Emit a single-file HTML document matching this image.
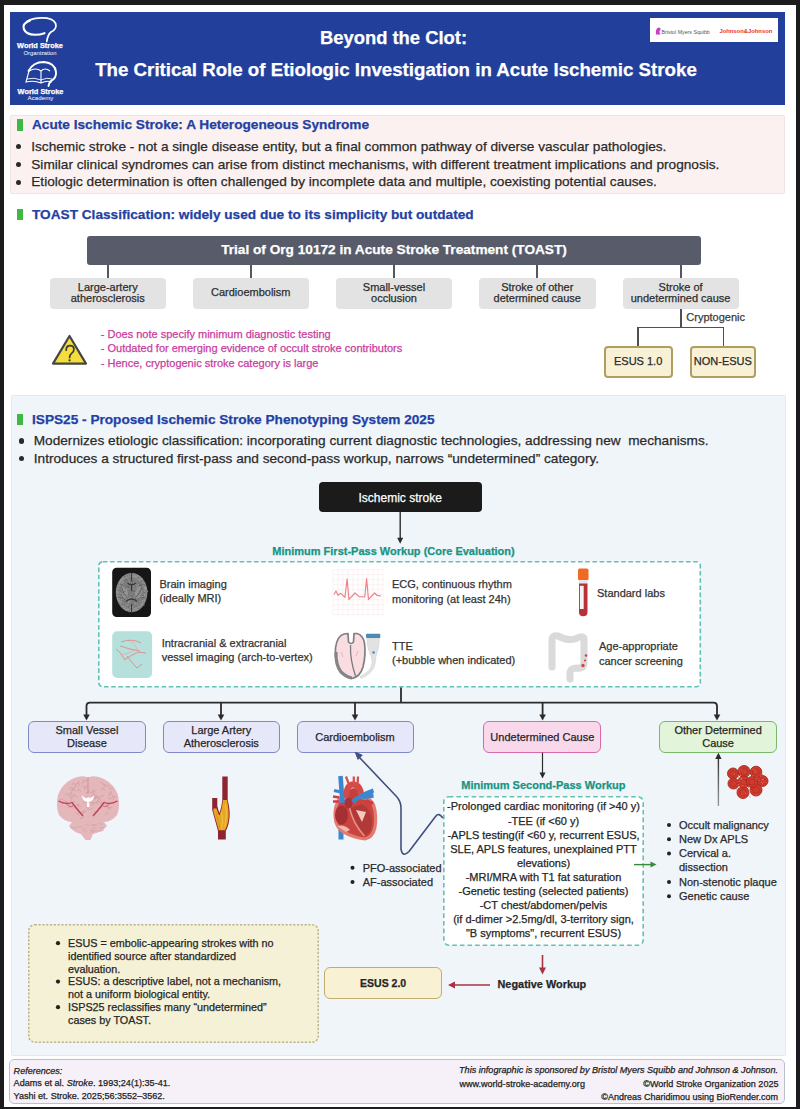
<!DOCTYPE html>
<html><head><meta charset="utf-8"><title>Beyond the Clot</title>
<style>
html,body{margin:0;padding:0;}
body{width:800px;height:1109px;position:relative;overflow:hidden;background:#1c1c1e;font-family:"Liberation Sans",sans-serif;}
.a{position:absolute;}
.t{position:absolute;white-space:nowrap;font-family:"Liberation Sans",sans-serif;-webkit-text-stroke:0.25px currentColor;}
svg{position:absolute;left:0;top:0;overflow:visible;}
</style></head><body>

<div class="a" style="left:4.00px;top:5.00px;width:792.00px;height:1102.30px;background:#ffffff;"></div>
<div class="a" style="left:10.00px;top:12.00px;width:775.00px;height:93.00px;background:#22409b;"></div>
<div class="t" style="left:-6.50px;width:800px;text-align:center;top:27.75px;font-size:18.4px;line-height:20.55px;color:#fff;font-weight:bold;font-style:normal;">Beyond the Clot:</div>
<div class="t" style="left:-4.00px;width:800px;text-align:center;top:59.78px;font-size:18.7px;line-height:20.89px;color:#fff;font-weight:bold;font-style:normal;">The Critical Role of Etiologic Investigation in Acute Ischemic Stroke</div>
<div class="a" style="left:650.00px;top:18.40px;width:128.40px;height:24.10px;background:#fff;"></div>
<div class="a" style="left:10.00px;top:115.00px;width:774.60px;height:79.30px;box-sizing:border-box;border:1px solid #efe4e2;background:#fbf1f0;border-radius:2px;"></div>
<div class="a" style="left:17.00px;top:119.00px;width:6.00px;height:12.00px;background:#3fb944;"></div>
<div class="t" style="left:32.00px;top:117.15px;font-size:13.65px;line-height:15.25px;color:#2241a3;font-weight:bold;font-style:normal;">Acute Ischemic Stroke: A Heterogeneous Syndrome</div>
<div class="a" style="left:16.37px;top:144.37px;width:5.05px;height:5.05px;border-radius:50%;background:#2a2a2a;"></div>
<div class="t" style="left:31.25px;top:139.05px;font-size:13.65px;line-height:15.25px;color:#2a2a2a;font-weight:normal;font-style:normal;">Ischemic stroke - not a single disease entity, but a final common pathway of diverse vascular pathologies.</div>
<div class="a" style="left:16.37px;top:161.97px;width:5.05px;height:5.05px;border-radius:50%;background:#2a2a2a;"></div>
<div class="t" style="left:31.25px;top:156.65px;font-size:13.65px;line-height:15.25px;color:#2a2a2a;font-weight:normal;font-style:normal;">Similar clinical syndromes can arise from distinct mechanisms, with different treatment implications and prognosis.</div>
<div class="a" style="left:16.37px;top:179.57px;width:5.05px;height:5.05px;border-radius:50%;background:#2a2a2a;"></div>
<div class="t" style="left:31.25px;top:174.25px;font-size:13.65px;line-height:15.25px;color:#2a2a2a;font-weight:normal;font-style:normal;">Etiologic determination is often challenged by incomplete data and multiple, coexisting potential causes.</div>
<div class="a" style="left:17.00px;top:208.75px;width:6.00px;height:11.25px;background:#3fb944;"></div>
<div class="t" style="left:32.00px;top:206.90px;font-size:13.65px;line-height:15.25px;color:#2241a3;font-weight:bold;font-style:normal;">TOAST Classification: widely used due to its simplicity but outdated</div>
<div class="a" style="left:87.00px;top:236.20px;width:613.50px;height:28.80px;box-sizing:border-box;border:0px solid #585b6a;background:#585b6a;border-radius:3px;"></div>
<div class="t" style="left:-6.00px;width:800px;text-align:center;top:242.35px;font-size:13.65px;line-height:15.25px;color:#fff;font-weight:bold;font-style:normal;">Trial of Org 10172 in Acute Stroke Treatment (TOAST)</div>
<div class="a" style="left:107.00px;top:265.00px;width:2.00px;height:12.50px;background:#555761;"></div>
<div class="a" style="left:250.00px;top:265.00px;width:2.00px;height:12.50px;background:#555761;"></div>
<div class="a" style="left:393.00px;top:265.00px;width:2.00px;height:12.50px;background:#555761;"></div>
<div class="a" style="left:536.40px;top:265.00px;width:2.00px;height:12.50px;background:#555761;"></div>
<div class="a" style="left:679.50px;top:265.00px;width:2.00px;height:12.50px;background:#555761;"></div>
<div class="a" style="left:50.00px;top:277.50px;width:115.50px;height:31.50px;box-sizing:border-box;border:0px solid #e3e3e3;background:#e3e3e3;border-radius:4px;"></div>
<div class="a" style="left:193.00px;top:277.50px;width:115.50px;height:31.50px;box-sizing:border-box;border:0px solid #e3e3e3;background:#e3e3e3;border-radius:4px;"></div>
<div class="a" style="left:336.00px;top:277.50px;width:116.00px;height:31.50px;box-sizing:border-box;border:0px solid #e3e3e3;background:#e3e3e3;border-radius:4px;"></div>
<div class="a" style="left:479.00px;top:277.50px;width:116.50px;height:31.50px;box-sizing:border-box;border:0px solid #e3e3e3;background:#e3e3e3;border-radius:4px;"></div>
<div class="a" style="left:622.50px;top:277.50px;width:116.20px;height:31.50px;box-sizing:border-box;border:0px solid #e3e3e3;background:#e3e3e3;border-radius:4px;"></div>
<div class="t" style="left:-292.25px;width:800px;text-align:center;top:280.85px;font-size:11px;line-height:12.29px;color:#2e2e2e;font-weight:normal;font-style:normal;">Large-artery</div>
<div class="t" style="left:-292.25px;width:800px;text-align:center;top:292.05px;font-size:11px;line-height:12.29px;color:#2e2e2e;font-weight:normal;font-style:normal;">atherosclerosis</div>
<div class="t" style="left:-149.25px;width:800px;text-align:center;top:285.85px;font-size:11px;line-height:12.29px;color:#2e2e2e;font-weight:normal;font-style:normal;">Cardioembolism</div>
<div class="t" style="left:-6.00px;width:800px;text-align:center;top:280.85px;font-size:11px;line-height:12.29px;color:#2e2e2e;font-weight:normal;font-style:normal;">Small-vessel</div>
<div class="t" style="left:-6.00px;width:800px;text-align:center;top:292.05px;font-size:11px;line-height:12.29px;color:#2e2e2e;font-weight:normal;font-style:normal;">occlusion</div>
<div class="t" style="left:137.25px;width:800px;text-align:center;top:280.85px;font-size:11px;line-height:12.29px;color:#2e2e2e;font-weight:normal;font-style:normal;">Stroke of other</div>
<div class="t" style="left:137.25px;width:800px;text-align:center;top:292.05px;font-size:11px;line-height:12.29px;color:#2e2e2e;font-weight:normal;font-style:normal;">determined cause</div>
<div class="t" style="left:280.60px;width:800px;text-align:center;top:280.85px;font-size:11px;line-height:12.29px;color:#2e2e2e;font-weight:normal;font-style:normal;">Stroke of</div>
<div class="t" style="left:280.60px;width:800px;text-align:center;top:292.05px;font-size:11px;line-height:12.29px;color:#2e2e2e;font-weight:normal;font-style:normal;">undetermined cause</div>
<div class="a" style="left:680.00px;top:309.00px;width:1.50px;height:19.00px;background:#505050;"></div>
<div class="a" style="left:637.00px;top:326.80px;width:87.00px;height:1.50px;background:#505050;"></div>
<div class="a" style="left:637.00px;top:326.80px;width:1.50px;height:19.70px;background:#505050;"></div>
<div class="a" style="left:722.50px;top:326.80px;width:1.50px;height:19.70px;background:#505050;"></div>
<div class="t" style="left:686.30px;top:310.75px;font-size:11px;line-height:12.29px;color:#3a3a3a;font-weight:normal;font-style:normal;">Cryptogenic</div>
<div class="a" style="left:603.50px;top:346.00px;width:69.30px;height:31.60px;box-sizing:border-box;border:2px solid #b09e60;background:#f8f1d6;border-radius:4px;"></div>
<div class="a" style="left:689.70px;top:346.00px;width:66.30px;height:31.60px;box-sizing:border-box;border:2px solid #b09e60;background:#f8f1d6;border-radius:4px;"></div>
<div class="t" style="left:238.15px;width:800px;text-align:center;top:354.85px;font-size:11px;line-height:12.29px;color:#2a2a2a;font-weight:normal;font-style:normal;">ESUS 1.0</div>
<div class="t" style="left:322.85px;width:800px;text-align:center;top:354.85px;font-size:11px;line-height:12.29px;color:#2a2a2a;font-weight:normal;font-style:normal;">NON-ESUS</div>
<svg width="800" height="1109"><path d="M69.5 336 L86 363.6 L53 363.6 Z" fill="#f5de3c" stroke="#454545" stroke-width="2.2" stroke-linejoin="round"/><path d="M66.2 350.2 Q66.2 345.6 70.1 345.6 Q73.9 345.6 73.9 349.4 Q73.9 351.9 71.6 353.4 Q69.6 354.8 69.6 357.6" fill="none" stroke="#3a3a3a" stroke-width="1.7" stroke-linecap="round"/><circle cx="69.6" cy="360.3" r="1.15" fill="#3a3a3a"/></svg>
<div class="t" style="left:100.80px;top:327.65px;font-size:11px;line-height:12.29px;color:#c83d9e;font-weight:normal;font-style:normal;">- Does note specify minimum diagnostic testing</div>
<div class="t" style="left:100.80px;top:342.05px;font-size:11px;line-height:12.29px;color:#c83d9e;font-weight:normal;font-style:normal;">- Outdated for emerging evidence of occult stroke contributors</div>
<div class="t" style="left:100.80px;top:356.55px;font-size:11px;line-height:12.29px;color:#c83d9e;font-weight:normal;font-style:normal;">- Hence, cryptogenic stroke category is large</div>
<div class="a" style="left:10.50px;top:395.20px;width:775.70px;height:660.40px;box-sizing:border-box;border:1px solid #e4e9ee;background:#f0f5fa;border-radius:1.5px;"></div>
<div class="a" style="left:17.00px;top:413.75px;width:6.00px;height:11.25px;background:#3fb944;"></div>
<div class="t" style="left:32.00px;top:411.65px;font-size:13.65px;line-height:15.25px;color:#2241a3;font-weight:bold;font-style:normal;">ISPS25 - Proposed Ischemic Stroke Phenotyping System 2025</div>
<div class="a" style="left:18.72px;top:438.47px;width:5.05px;height:5.05px;border-radius:50%;background:#2a2a2a;"></div>
<div class="t" style="left:33.75px;top:433.15px;font-size:13.65px;line-height:15.25px;color:#2a2a2a;font-weight:normal;font-style:normal;">Modernizes etiologic classification: incorporating current diagnostic technologies, addressing new&nbsp; mechanisms.</div>
<div class="a" style="left:18.72px;top:455.97px;width:5.05px;height:5.05px;border-radius:50%;background:#2a2a2a;"></div>
<div class="t" style="left:33.75px;top:450.65px;font-size:13.65px;line-height:15.25px;color:#2a2a2a;font-weight:normal;font-style:normal;">Introduces a structured first-pass and second-pass workup, narrows “undetermined” category.</div>
<div class="a" style="left:318.60px;top:482.00px;width:163.10px;height:30.00px;box-sizing:border-box;border:0px solid #1b1b1b;background:#1b1b1b;border-radius:4px;"></div>
<div class="t" style="left:0.20px;width:800px;text-align:center;top:492.34px;font-size:12px;line-height:13.40px;color:#fff;font-weight:normal;font-style:normal;">Ischemic stroke</div>
<div class="t" style="left:-6.50px;width:800px;text-align:center;top:545.04px;font-size:11px;line-height:12.29px;color:#179484;font-weight:bold;font-style:normal;">Minimum First-Pass Workup (Core Evaluation)</div>
<svg class="a" style="left:98.20px;top:561.10px;" width="603.10" height="126.50"><rect x="0.80" y="0.80" width="601.50" height="124.90" rx="4" fill="#ffffff" stroke="#62c2b4" stroke-width="1.6" stroke-dasharray="4.6 2.6"/></svg>
<div class="t" style="left:159.50px;top:578.04px;font-size:11px;line-height:12.29px;color:#333;font-weight:normal;font-style:normal;">Brain imaging</div>
<div class="t" style="left:159.50px;top:592.25px;font-size:11px;line-height:12.29px;color:#333;font-weight:normal;font-style:normal;">(ideally MRI)</div>
<div class="t" style="left:161.70px;top:636.75px;font-size:11px;line-height:12.29px;color:#333;font-weight:normal;font-style:normal;">Intracranial &amp; extracranial</div>
<div class="t" style="left:161.70px;top:651.04px;font-size:11px;line-height:12.29px;color:#333;font-weight:normal;font-style:normal;">vessel imaging (arch-to-vertex)</div>
<div class="t" style="left:392.00px;top:578.04px;font-size:11px;line-height:12.29px;color:#333;font-weight:normal;font-style:normal;">ECG, continuous rhythm</div>
<div class="t" style="left:392.00px;top:592.84px;font-size:11px;line-height:12.29px;color:#333;font-weight:normal;font-style:normal;">monitoring (at least 24h)</div>
<div class="t" style="left:597.00px;top:586.64px;font-size:11px;line-height:12.29px;color:#333;font-weight:normal;font-style:normal;">Standard labs</div>
<div class="t" style="left:392.00px;top:640.34px;font-size:11px;line-height:12.29px;color:#333;font-weight:normal;font-style:normal;">TTE</div>
<div class="t" style="left:392.00px;top:654.04px;font-size:11px;line-height:12.29px;color:#333;font-weight:normal;font-style:normal;">(+bubble when indicated)</div>
<div class="t" style="left:599.00px;top:639.84px;font-size:11px;line-height:12.29px;color:#333;font-weight:normal;font-style:normal;">Age-appropriate</div>
<div class="t" style="left:599.00px;top:654.64px;font-size:11px;line-height:12.29px;color:#333;font-weight:normal;font-style:normal;">cancer screening</div>
<div class="a" style="left:28.25px;top:720.60px;width:117.25px;height:32.10px;box-sizing:border-box;border:1.5px solid #7f88c9;background:#e6e8f9;border-radius:6px;"></div>
<div class="t" style="left:-313.12px;width:800px;text-align:center;top:724.04px;font-size:11px;line-height:12.29px;color:#262626;font-weight:normal;font-style:normal;">Small Vessel</div>
<div class="t" style="left:-313.12px;width:800px;text-align:center;top:737.44px;font-size:11px;line-height:12.29px;color:#262626;font-weight:normal;font-style:normal;">Disease</div>
<div class="a" style="left:162.50px;top:720.60px;width:117.50px;height:32.10px;box-sizing:border-box;border:1.5px solid #7f88c9;background:#e6e8f9;border-radius:6px;"></div>
<div class="t" style="left:-178.75px;width:800px;text-align:center;top:724.04px;font-size:11px;line-height:12.29px;color:#262626;font-weight:normal;font-style:normal;">Large Artery</div>
<div class="t" style="left:-178.75px;width:800px;text-align:center;top:737.44px;font-size:11px;line-height:12.29px;color:#262626;font-weight:normal;font-style:normal;">Atherosclerosis</div>
<div class="a" style="left:296.50px;top:720.60px;width:117.00px;height:32.10px;box-sizing:border-box;border:1.5px solid #7f88c9;background:#e6e8f9;border-radius:6px;"></div>
<div class="t" style="left:-45.00px;width:800px;text-align:center;top:730.75px;font-size:11px;line-height:12.29px;color:#262626;font-weight:normal;font-style:normal;">Cardioembolism</div>
<div class="a" style="left:483.20px;top:720.60px;width:118.30px;height:32.10px;box-sizing:border-box;border:1.5px solid #d76aa9;background:#fad8ec;border-radius:6px;"></div>
<div class="t" style="left:142.35px;width:800px;text-align:center;top:730.75px;font-size:11px;line-height:12.29px;color:#262626;font-weight:normal;font-style:normal;">Undetermined Cause</div>
<div class="a" style="left:659.00px;top:720.60px;width:118.20px;height:32.10px;box-sizing:border-box;border:1.5px solid #78b96c;background:#e2f4d9;border-radius:6px;"></div>
<div class="t" style="left:318.10px;width:800px;text-align:center;top:724.04px;font-size:11px;line-height:12.29px;color:#262626;font-weight:normal;font-style:normal;">Other Determined</div>
<div class="t" style="left:318.10px;width:800px;text-align:center;top:737.44px;font-size:11px;line-height:12.29px;color:#262626;font-weight:normal;font-style:normal;">Cause</div>
<div class="t" style="left:143.40px;width:800px;text-align:center;top:779.25px;font-size:11px;line-height:12.29px;color:#179484;font-weight:bold;font-style:normal;">Minimum Second-Pass Workup</div>
<svg class="a" style="left:442.80px;top:796.20px;" width="201.00" height="150.00"><rect x="0.80" y="0.80" width="199.40" height="148.40" rx="5" fill="#ffffff" stroke="#62c2b4" stroke-width="1.6" stroke-dasharray="4.6 3"/></svg>
<div class="t" style="left:143.50px;width:800px;text-align:center;top:800.44px;font-size:11px;line-height:12.29px;color:#262626;font-weight:normal;font-style:normal;">-Prolonged cardiac monitoring (if &gt;40 y)</div>
<div class="t" style="left:143.50px;width:800px;text-align:center;top:814.52px;font-size:11px;line-height:12.29px;color:#262626;font-weight:normal;font-style:normal;">-TEE (if &lt;60 y)</div>
<div class="t" style="left:143.50px;width:800px;text-align:center;top:828.60px;font-size:11px;line-height:12.29px;color:#262626;font-weight:normal;font-style:normal;">-APLS testing(if &lt;60 y, recurrent ESUS,</div>
<div class="t" style="left:143.50px;width:800px;text-align:center;top:842.68px;font-size:11px;line-height:12.29px;color:#262626;font-weight:normal;font-style:normal;">SLE, APLS features, unexplained PTT</div>
<div class="t" style="left:143.50px;width:800px;text-align:center;top:856.76px;font-size:11px;line-height:12.29px;color:#262626;font-weight:normal;font-style:normal;">elevations)</div>
<div class="t" style="left:143.50px;width:800px;text-align:center;top:870.84px;font-size:11px;line-height:12.29px;color:#262626;font-weight:normal;font-style:normal;">-MRI/MRA with T1 fat saturation</div>
<div class="t" style="left:143.50px;width:800px;text-align:center;top:884.92px;font-size:11px;line-height:12.29px;color:#262626;font-weight:normal;font-style:normal;">-Genetic testing (selected patients)</div>
<div class="t" style="left:143.50px;width:800px;text-align:center;top:899.00px;font-size:11px;line-height:12.29px;color:#262626;font-weight:normal;font-style:normal;">-CT chest/abdomen/pelvis</div>
<div class="t" style="left:143.50px;width:800px;text-align:center;top:913.08px;font-size:11px;line-height:12.29px;color:#262626;font-weight:normal;font-style:normal;">(if d-dimer &gt;2.5mg/dl, 3-territory sign,</div>
<div class="t" style="left:143.50px;width:800px;text-align:center;top:927.16px;font-size:11px;line-height:12.29px;color:#262626;font-weight:normal;font-style:normal;">"B symptoms", recurrent ESUS)</div>
<div class="t" style="left:679.00px;top:818.64px;font-size:11px;line-height:12.29px;color:#2a2a2a;font-weight:normal;font-style:normal;">Occult malignancy</div>
<div class="t" style="left:679.00px;top:832.89px;font-size:11px;line-height:12.29px;color:#2a2a2a;font-weight:normal;font-style:normal;">New Dx APLS</div>
<div class="t" style="left:679.00px;top:847.14px;font-size:11px;line-height:12.29px;color:#2a2a2a;font-weight:normal;font-style:normal;">Cervical a.</div>
<div class="t" style="left:679.00px;top:861.39px;font-size:11px;line-height:12.29px;color:#2a2a2a;font-weight:normal;font-style:normal;">dissection</div>
<div class="t" style="left:679.00px;top:875.64px;font-size:11px;line-height:12.29px;color:#2a2a2a;font-weight:normal;font-style:normal;">Non-stenotic plaque</div>
<div class="t" style="left:679.00px;top:889.89px;font-size:11px;line-height:12.29px;color:#2a2a2a;font-weight:normal;font-style:normal;">Genetic cause</div>
<div class="t" style="left:362.70px;top:861.54px;font-size:11px;line-height:12.29px;color:#2a2a2a;font-weight:normal;font-style:normal;">PFO-associated</div>
<div class="t" style="left:362.70px;top:875.84px;font-size:11px;line-height:12.29px;color:#2a2a2a;font-weight:normal;font-style:normal;">AF-associated</div>
<svg class="a" style="left:28.00px;top:923.50px;" width="291.00" height="119.00"><rect x="0.75" y="0.75" width="289.50" height="117.50" rx="6" fill="#f5f1d6" stroke="#bdb488" stroke-width="1.5" stroke-dasharray="2.2 1.6"/></svg>
<div class="t" style="left:68.00px;top:937.03px;font-size:10.8px;line-height:12.06px;color:#262626;font-weight:normal;font-style:normal;">ESUS = embolic-appearing strokes with no</div>
<div class="t" style="left:68.00px;top:949.83px;font-size:10.8px;line-height:12.06px;color:#262626;font-weight:normal;font-style:normal;">identified source after standardized</div>
<div class="t" style="left:68.00px;top:962.63px;font-size:10.8px;line-height:12.06px;color:#262626;font-weight:normal;font-style:normal;">evaluation.</div>
<div class="t" style="left:68.00px;top:975.43px;font-size:10.8px;line-height:12.06px;color:#262626;font-weight:normal;font-style:normal;">ESUS: a descriptive label, not a mechanism,</div>
<div class="t" style="left:68.00px;top:988.23px;font-size:10.8px;line-height:12.06px;color:#262626;font-weight:normal;font-style:normal;">not a uniform biological entity.</div>
<div class="t" style="left:68.00px;top:1001.03px;font-size:10.8px;line-height:12.06px;color:#262626;font-weight:normal;font-style:normal;">ISPS25 reclassifies many “undetermined”</div>
<div class="t" style="left:68.00px;top:1013.83px;font-size:10.8px;line-height:12.06px;color:#262626;font-weight:normal;font-style:normal;">cases by TOAST.</div>
<div class="a" style="left:324.25px;top:967.00px;width:117.75px;height:32.00px;box-sizing:border-box;border:1.5px solid #c4ad6c;background:#f8f1d4;border-radius:6px;"></div>
<div class="t" style="left:-16.90px;width:800px;text-align:center;top:977.50px;font-size:10.5px;line-height:11.73px;color:#262626;font-weight:bold;font-style:normal;">ESUS 2.0</div>
<div class="t" style="left:497.50px;top:978.14px;font-size:10.9px;line-height:12.18px;color:#262626;font-weight:bold;font-style:normal;">Negative Workup</div>
<svg width="800" height="1109"><line x1="400.2" y1="512" x2="400.2" y2="539" stroke="#2b2b2b" stroke-width="1.4"/><path d="M397.2 537.8 L403.2 537.8 L400.2 543.8 Z" fill="#2b2b2b"/><line x1="401" y1="687.4" x2="401" y2="702.7" stroke="#2b2b2b" stroke-width="1.8"/><path d="M86.5 715 L86.5 706 Q86.5 702.6 90 702.6 L713.5 702.6 Q717 702.6 717 706 L717 715" fill="none" stroke="#2b2b2b" stroke-width="1.8"/><line x1="221" y1="702.6" x2="221" y2="715" stroke="#2b2b2b" stroke-width="1.8"/><line x1="355" y1="702.6" x2="355" y2="715" stroke="#2b2b2b" stroke-width="1.8"/><line x1="542.6" y1="702.6" x2="542.6" y2="715" stroke="#2b2b2b" stroke-width="1.8"/><path d="M83.2 714.4 L89.8 714.4 L86.5 720.6 Z" fill="#2b2b2b"/><path d="M217.7 714.4 L224.3 714.4 L221 720.6 Z" fill="#2b2b2b"/><path d="M351.7 714.4 L358.3 714.4 L355 720.6 Z" fill="#2b2b2b"/><path d="M539.3000000000001 714.4 L545.9 714.4 L542.6 720.6 Z" fill="#2b2b2b"/><path d="M713.7 714.4 L720.3 714.4 L717 720.6 Z" fill="#2b2b2b"/><line x1="542.5" y1="752.7" x2="542.5" y2="773" stroke="#2b2b2b" stroke-width="1.2"/><path d="M539.5 772.6 L545.5 772.6 L542.5 778.6 Z" fill="#2b2b2b"/><line x1="634" y1="864.6" x2="651" y2="864.6" stroke="#3b8a3b" stroke-width="1.4"/><path d="M650.5 861.6 L650.5 867.6 L656.5 864.6 Z" fill="#3b8a3b"/><defs><linearGradient id="ga" x1="0" y1="0" x2="0" y2="1"><stop offset="0" stop-color="#333"/><stop offset="1" stop-color="#9a9a9a"/></linearGradient></defs><rect x="717.7" y="758" width="1.4" height="48" fill="url(#ga)"/><path d="M715.1999999999999 759.0 L721.6 759.0 L718.4 752.8 Z" fill="#2b2b2b"/><circle cx="669" cy="824.90" r="2" fill="#222"/><circle cx="669" cy="839.15" r="2" fill="#222"/><circle cx="669" cy="853.40" r="2" fill="#222"/><circle cx="669" cy="881.90" r="2" fill="#222"/><circle cx="669" cy="896.15" r="2" fill="#222"/><circle cx="352.5" cy="867.80" r="2" fill="#222"/><circle cx="352.5" cy="882.10" r="2" fill="#222"/><path d="M442.8 818 Q439 812 435.5 816.5 L409 851.5 Q402.5 858 401 849 L401 808 Q401 801.5 396.5 796.5 L359.5 757.5" fill="none" stroke="#41507f" stroke-width="1.6" stroke-linejoin="round"/><path d="M355.3 752.3 L362.2 755.2 L358 759.4 Z" fill="#41507f" stroke="#41507f" stroke-width="1" stroke-linejoin="round"/><circle cx="58" cy="943.20" r="2.1" fill="#222"/><circle cx="58" cy="981.60" r="2.1" fill="#222"/><circle cx="58" cy="1007.20" r="2.1" fill="#222"/><line x1="542.5" y1="955" x2="542.5" y2="968" stroke="#a8323f" stroke-width="1.6"/><path d="M539.0 967.5 L546.0 967.5 L542.5 974.5 Z" fill="#a8323f"/><line x1="490" y1="985" x2="455" y2="985" stroke="#a8323f" stroke-width="1.6"/><path d="M455 981.5 L455 988.5 L448 985 Z" fill="#a8323f"/></svg>
<svg width="800" height="1109"><rect x="112.2" y="567.8" width="38.8" height="49.2" rx="4.5" fill="#161616"/><ellipse cx="131.6" cy="592.6" rx="15.8" ry="19.6" fill="#8a8a8a"/><ellipse cx="131.6" cy="593" rx="12.5" ry="15.5" fill="#7c7c7c"/><ellipse cx="124.5" cy="592" rx="3.2" ry="6" fill="#939393" transform="rotate(-15 124.5 592)"/><ellipse cx="138.7" cy="592" rx="3.2" ry="6" fill="#939393" transform="rotate(15 138.7 592)"/><rect x="126.1" y="579.2" width="0.9" height="0.9" fill="#5e5e5e"/><rect x="118.3" y="594.0" width="0.9" height="0.9" fill="#6a6a6a"/><rect x="134.2" y="608.3" width="0.9" height="0.9" fill="#a4a4a4"/><rect x="117.3" y="590.1" width="0.9" height="0.9" fill="#5e5e5e"/><rect x="123.6" y="594.6" width="0.9" height="0.9" fill="#5e5e5e"/><rect x="141.7" y="578.2" width="0.9" height="0.9" fill="#a4a4a4"/><rect x="135.6" y="595.8" width="0.9" height="0.9" fill="#5e5e5e"/><rect x="134.0" y="588.6" width="0.9" height="0.9" fill="#a4a4a4"/><rect x="125.1" y="578.9" width="0.9" height="0.9" fill="#5e5e5e"/><rect x="133.8" y="594.9" width="0.9" height="0.9" fill="#a4a4a4"/><rect x="119.3" y="595.3" width="0.9" height="0.9" fill="#a4a4a4"/><rect x="127.6" y="594.4" width="0.9" height="0.9" fill="#5e5e5e"/><rect x="133.6" y="597.2" width="0.9" height="0.9" fill="#9a9a9a"/><rect x="137.2" y="589.8" width="0.9" height="0.9" fill="#6a6a6a"/><rect x="130.5" y="608.9" width="0.9" height="0.9" fill="#6a6a6a"/><rect x="125.4" y="603.9" width="0.9" height="0.9" fill="#a4a4a4"/><rect x="118.6" y="584.9" width="0.9" height="0.9" fill="#9a9a9a"/><rect x="143.2" y="601.4" width="0.9" height="0.9" fill="#6a6a6a"/><rect x="135.0" y="576.2" width="0.9" height="0.9" fill="#9a9a9a"/><rect x="121.2" y="586.5" width="0.9" height="0.9" fill="#9a9a9a"/><rect x="129.2" y="610.3" width="0.9" height="0.9" fill="#5e5e5e"/><rect x="139.8" y="595.4" width="0.9" height="0.9" fill="#6a6a6a"/><rect x="126.6" y="586.8" width="0.9" height="0.9" fill="#9a9a9a"/><rect x="134.1" y="590.9" width="0.9" height="0.9" fill="#5e5e5e"/><rect x="145.4" y="591.6" width="0.9" height="0.9" fill="#5e5e5e"/><rect x="118.0" y="600.3" width="0.9" height="0.9" fill="#9a9a9a"/><rect x="124.9" y="588.2" width="0.9" height="0.9" fill="#6a6a6a"/><rect x="116.8" y="591.1" width="0.9" height="0.9" fill="#a4a4a4"/><rect x="135.0" y="592.4" width="0.9" height="0.9" fill="#a4a4a4"/><rect x="139.9" y="578.4" width="0.9" height="0.9" fill="#a4a4a4"/><rect x="128.4" y="608.6" width="0.9" height="0.9" fill="#9a9a9a"/><rect x="118.6" y="590.6" width="0.9" height="0.9" fill="#6a6a6a"/><rect x="143.5" y="604.9" width="0.9" height="0.9" fill="#6a6a6a"/><rect x="137.3" y="588.0" width="0.9" height="0.9" fill="#a4a4a4"/><rect x="120.8" y="580.2" width="0.9" height="0.9" fill="#a4a4a4"/><rect x="141.9" y="580.4" width="0.9" height="0.9" fill="#6a6a6a"/><rect x="127.5" y="595.1" width="0.9" height="0.9" fill="#a4a4a4"/><rect x="137.5" y="593.2" width="0.9" height="0.9" fill="#5e5e5e"/><rect x="130.3" y="606.8" width="0.9" height="0.9" fill="#9a9a9a"/><rect x="128.4" y="588.5" width="0.9" height="0.9" fill="#9a9a9a"/><rect x="135.8" y="575.8" width="0.9" height="0.9" fill="#5e5e5e"/><rect x="146.6" y="590.3" width="0.9" height="0.9" fill="#5e5e5e"/><rect x="126.6" y="575.4" width="0.9" height="0.9" fill="#5e5e5e"/><rect x="133.7" y="594.0" width="0.9" height="0.9" fill="#6a6a6a"/><rect x="135.1" y="576.1" width="0.9" height="0.9" fill="#a4a4a4"/><rect x="135.1" y="579.1" width="0.9" height="0.9" fill="#6a6a6a"/><rect x="145.7" y="596.5" width="0.9" height="0.9" fill="#9a9a9a"/><rect x="146.9" y="591.3" width="0.9" height="0.9" fill="#9a9a9a"/><rect x="125.8" y="578.9" width="0.9" height="0.9" fill="#6a6a6a"/><rect x="139.1" y="591.8" width="0.9" height="0.9" fill="#a4a4a4"/><rect x="132.1" y="581.3" width="0.9" height="0.9" fill="#6a6a6a"/><rect x="120.6" y="594.3" width="0.9" height="0.9" fill="#5e5e5e"/><rect x="139.6" y="584.8" width="0.9" height="0.9" fill="#5e5e5e"/><rect x="137.7" y="583.4" width="0.9" height="0.9" fill="#6a6a6a"/><rect x="144.3" y="587.1" width="0.9" height="0.9" fill="#a4a4a4"/><rect x="132.6" y="603.3" width="0.9" height="0.9" fill="#6a6a6a"/><rect x="135.8" y="596.9" width="0.9" height="0.9" fill="#a4a4a4"/><rect x="141.1" y="604.8" width="0.9" height="0.9" fill="#a4a4a4"/><rect x="122.3" y="592.3" width="0.9" height="0.9" fill="#5e5e5e"/><rect x="130.7" y="580.8" width="0.9" height="0.9" fill="#6a6a6a"/><rect x="130.0" y="609.4" width="0.9" height="0.9" fill="#6a6a6a"/><rect x="145.7" y="587.4" width="0.9" height="0.9" fill="#a4a4a4"/><rect x="119.3" y="591.5" width="0.9" height="0.9" fill="#6a6a6a"/><rect x="122.4" y="597.4" width="0.9" height="0.9" fill="#5e5e5e"/><rect x="131.0" y="598.5" width="0.9" height="0.9" fill="#5e5e5e"/><rect x="128.1" y="600.7" width="0.9" height="0.9" fill="#a4a4a4"/><rect x="130.9" y="580.3" width="0.9" height="0.9" fill="#6a6a6a"/><rect x="138.5" y="591.2" width="0.9" height="0.9" fill="#5e5e5e"/><rect x="138.6" y="579.9" width="0.9" height="0.9" fill="#a4a4a4"/><rect x="117.0" y="596.1" width="0.9" height="0.9" fill="#9a9a9a"/><rect x="141.1" y="579.0" width="0.9" height="0.9" fill="#9a9a9a"/><rect x="136.5" y="586.9" width="0.9" height="0.9" fill="#a4a4a4"/><rect x="138.6" y="577.3" width="0.9" height="0.9" fill="#a4a4a4"/><rect x="129.5" y="606.9" width="0.9" height="0.9" fill="#a4a4a4"/><rect x="131.6" y="602.7" width="0.9" height="0.9" fill="#6a6a6a"/><rect x="124.1" y="589.5" width="0.9" height="0.9" fill="#a4a4a4"/><rect x="143.9" y="598.8" width="0.9" height="0.9" fill="#9a9a9a"/><rect x="131.9" y="606.9" width="0.9" height="0.9" fill="#a4a4a4"/><rect x="135.0" y="603.2" width="0.9" height="0.9" fill="#a4a4a4"/><rect x="121.4" y="591.6" width="0.9" height="0.9" fill="#5e5e5e"/><rect x="133.4" y="585.9" width="0.9" height="0.9" fill="#9a9a9a"/><rect x="140.4" y="577.5" width="0.9" height="0.9" fill="#5e5e5e"/><rect x="123.8" y="584.0" width="0.9" height="0.9" fill="#5e5e5e"/><rect x="131.8" y="595.0" width="0.9" height="0.9" fill="#5e5e5e"/><rect x="129.8" y="596.9" width="0.9" height="0.9" fill="#a4a4a4"/><rect x="137.6" y="590.8" width="0.9" height="0.9" fill="#9a9a9a"/><rect x="131.8" y="582.9" width="0.9" height="0.9" fill="#6a6a6a"/><rect x="122.4" y="590.6" width="0.9" height="0.9" fill="#9a9a9a"/><rect x="119.9" y="590.4" width="0.9" height="0.9" fill="#5e5e5e"/><rect x="136.9" y="589.8" width="0.9" height="0.9" fill="#a4a4a4"/><rect x="136.9" y="603.5" width="0.9" height="0.9" fill="#a4a4a4"/><rect x="145.2" y="598.1" width="0.9" height="0.9" fill="#6a6a6a"/><rect x="145.6" y="588.7" width="0.9" height="0.9" fill="#9a9a9a"/><rect x="121.1" y="599.0" width="0.9" height="0.9" fill="#a4a4a4"/><rect x="121.1" y="590.0" width="0.9" height="0.9" fill="#9a9a9a"/><rect x="126.6" y="580.9" width="0.9" height="0.9" fill="#6a6a6a"/><rect x="119.0" y="587.5" width="0.9" height="0.9" fill="#6a6a6a"/><rect x="133.3" y="590.3" width="0.9" height="0.9" fill="#5e5e5e"/><rect x="128.0" y="593.3" width="0.9" height="0.9" fill="#6a6a6a"/><rect x="132.0" y="575.9" width="0.9" height="0.9" fill="#a4a4a4"/><rect x="140.2" y="583.8" width="0.9" height="0.9" fill="#a4a4a4"/><rect x="141.5" y="606.0" width="0.9" height="0.9" fill="#6a6a6a"/><rect x="128.7" y="594.0" width="0.9" height="0.9" fill="#9a9a9a"/><rect x="137.8" y="576.8" width="0.9" height="0.9" fill="#5e5e5e"/><rect x="140.9" y="580.4" width="0.9" height="0.9" fill="#5e5e5e"/><rect x="118.8" y="583.4" width="0.9" height="0.9" fill="#a4a4a4"/><rect x="130.2" y="586.4" width="0.9" height="0.9" fill="#9a9a9a"/><rect x="144.8" y="583.7" width="0.9" height="0.9" fill="#a4a4a4"/><rect x="124.2" y="580.4" width="0.9" height="0.9" fill="#6a6a6a"/><rect x="135.6" y="593.8" width="0.9" height="0.9" fill="#a4a4a4"/><rect x="125.1" y="592.6" width="0.9" height="0.9" fill="#a4a4a4"/><rect x="124.5" y="604.3" width="0.9" height="0.9" fill="#6a6a6a"/><rect x="131.8" y="611.0" width="0.9" height="0.9" fill="#9a9a9a"/><rect x="123.7" y="590.6" width="0.9" height="0.9" fill="#9a9a9a"/><rect x="136.5" y="594.4" width="0.9" height="0.9" fill="#9a9a9a"/><rect x="122.8" y="582.2" width="0.9" height="0.9" fill="#a4a4a4"/><rect x="141.9" y="600.5" width="0.9" height="0.9" fill="#a4a4a4"/><rect x="128.6" y="586.7" width="0.9" height="0.9" fill="#5e5e5e"/><rect x="135.5" y="607.2" width="0.9" height="0.9" fill="#9a9a9a"/><rect x="136.9" y="584.2" width="0.9" height="0.9" fill="#a4a4a4"/><rect x="137.6" y="575.1" width="0.9" height="0.9" fill="#a4a4a4"/><rect x="121.0" y="590.5" width="0.9" height="0.9" fill="#6a6a6a"/><rect x="127.4" y="586.0" width="0.9" height="0.9" fill="#6a6a6a"/><rect x="125.7" y="587.1" width="0.9" height="0.9" fill="#5e5e5e"/><rect x="126.5" y="576.6" width="0.9" height="0.9" fill="#6a6a6a"/><rect x="131.7" y="581.1" width="0.9" height="0.9" fill="#5e5e5e"/><rect x="120.6" y="595.9" width="0.9" height="0.9" fill="#9a9a9a"/><rect x="123.3" y="595.9" width="0.9" height="0.9" fill="#a4a4a4"/><rect x="136.5" y="600.9" width="0.9" height="0.9" fill="#9a9a9a"/><rect x="139.8" y="601.1" width="0.9" height="0.9" fill="#9a9a9a"/><rect x="120.7" y="601.2" width="0.9" height="0.9" fill="#a4a4a4"/><rect x="143.8" y="597.5" width="0.9" height="0.9" fill="#a4a4a4"/><rect x="144.3" y="602.3" width="0.9" height="0.9" fill="#5e5e5e"/><rect x="141.7" y="595.8" width="0.9" height="0.9" fill="#a4a4a4"/><rect x="135.9" y="610.2" width="0.9" height="0.9" fill="#9a9a9a"/><rect x="142.0" y="594.8" width="0.9" height="0.9" fill="#5e5e5e"/><rect x="135.5" y="599.5" width="0.9" height="0.9" fill="#9a9a9a"/><rect x="124.3" y="590.9" width="0.9" height="0.9" fill="#5e5e5e"/><rect x="139.3" y="592.7" width="0.9" height="0.9" fill="#5e5e5e"/><rect x="136.5" y="575.9" width="0.9" height="0.9" fill="#9a9a9a"/><rect x="123.9" y="576.3" width="0.9" height="0.9" fill="#6a6a6a"/><rect x="123.4" y="602.4" width="0.9" height="0.9" fill="#a4a4a4"/><rect x="131.4" y="588.1" width="0.9" height="0.9" fill="#9a9a9a"/><rect x="144.3" y="584.4" width="0.9" height="0.9" fill="#5e5e5e"/><rect x="135.2" y="598.1" width="0.9" height="0.9" fill="#5e5e5e"/><rect x="134.7" y="586.1" width="0.9" height="0.9" fill="#6a6a6a"/><rect x="135.4" y="578.5" width="0.9" height="0.9" fill="#9a9a9a"/><rect x="118.0" y="583.7" width="0.9" height="0.9" fill="#5e5e5e"/><rect x="137.6" y="599.3" width="0.9" height="0.9" fill="#6a6a6a"/><rect x="138.1" y="584.4" width="0.9" height="0.9" fill="#9a9a9a"/><rect x="130.6" y="578.0" width="0.9" height="0.9" fill="#a4a4a4"/><rect x="125.8" y="576.7" width="0.9" height="0.9" fill="#9a9a9a"/><rect x="116.6" y="591.0" width="0.9" height="0.9" fill="#9a9a9a"/><rect x="139.3" y="583.5" width="0.9" height="0.9" fill="#6a6a6a"/><rect x="120.2" y="604.9" width="0.9" height="0.9" fill="#6a6a6a"/><rect x="143.6" y="600.4" width="0.9" height="0.9" fill="#a4a4a4"/><rect x="131.5" y="607.0" width="0.9" height="0.9" fill="#9a9a9a"/><rect x="131.3" y="590.7" width="0.9" height="0.9" fill="#6a6a6a"/><rect x="138.6" y="589.4" width="0.9" height="0.9" fill="#9a9a9a"/><rect x="125.9" y="605.7" width="0.9" height="0.9" fill="#5e5e5e"/><rect x="126.2" y="586.4" width="0.9" height="0.9" fill="#9a9a9a"/><rect x="138.2" y="608.0" width="0.9" height="0.9" fill="#6a6a6a"/><rect x="128.2" y="606.8" width="0.9" height="0.9" fill="#5e5e5e"/><rect x="127.3" y="589.8" width="0.9" height="0.9" fill="#6a6a6a"/><rect x="142.6" y="584.2" width="0.9" height="0.9" fill="#5e5e5e"/><rect x="142.0" y="584.4" width="0.9" height="0.9" fill="#a4a4a4"/><rect x="123.8" y="583.6" width="0.9" height="0.9" fill="#6a6a6a"/><rect x="122.0" y="587.7" width="0.9" height="0.9" fill="#9a9a9a"/><rect x="143.5" y="604.6" width="0.9" height="0.9" fill="#9a9a9a"/><rect x="133.1" y="601.0" width="0.9" height="0.9" fill="#5e5e5e"/><rect x="145.0" y="589.2" width="0.9" height="0.9" fill="#a4a4a4"/><rect x="136.1" y="584.4" width="0.9" height="0.9" fill="#5e5e5e"/><rect x="144.4" y="594.5" width="0.9" height="0.9" fill="#a4a4a4"/><rect x="130.7" y="586.6" width="0.9" height="0.9" fill="#6a6a6a"/><rect x="124.0" y="601.8" width="0.9" height="0.9" fill="#6a6a6a"/><rect x="128.7" y="582.6" width="0.9" height="0.9" fill="#9a9a9a"/><rect x="133.4" y="588.5" width="0.9" height="0.9" fill="#a4a4a4"/><rect x="136.0" y="576.3" width="0.9" height="0.9" fill="#9a9a9a"/><rect x="133.2" y="590.8" width="0.9" height="0.9" fill="#6a6a6a"/><rect x="147.0" y="590.7" width="0.9" height="0.9" fill="#a4a4a4"/><rect x="133.1" y="582.8" width="0.9" height="0.9" fill="#a4a4a4"/><rect x="126.7" y="576.9" width="0.9" height="0.9" fill="#a4a4a4"/><rect x="127.5" y="604.5" width="0.9" height="0.9" fill="#a4a4a4"/><rect x="143.6" y="602.2" width="0.9" height="0.9" fill="#9a9a9a"/><rect x="128.0" y="602.0" width="0.9" height="0.9" fill="#a4a4a4"/><rect x="127.8" y="586.4" width="0.9" height="0.9" fill="#5e5e5e"/><rect x="131.5" y="595.5" width="0.9" height="0.9" fill="#6a6a6a"/><rect x="120.0" y="592.7" width="0.9" height="0.9" fill="#a4a4a4"/><rect x="128.0" y="598.2" width="0.9" height="0.9" fill="#9a9a9a"/><rect x="143.9" y="591.6" width="0.9" height="0.9" fill="#9a9a9a"/><rect x="123.8" y="577.6" width="0.9" height="0.9" fill="#a4a4a4"/><rect x="137.8" y="605.9" width="0.9" height="0.9" fill="#9a9a9a"/><rect x="118.7" y="603.2" width="0.9" height="0.9" fill="#5e5e5e"/><rect x="140.4" y="582.3" width="0.9" height="0.9" fill="#5e5e5e"/><rect x="136.1" y="585.1" width="0.9" height="0.9" fill="#a4a4a4"/><rect x="135.5" y="593.7" width="0.9" height="0.9" fill="#9a9a9a"/><rect x="137.8" y="577.7" width="0.9" height="0.9" fill="#5e5e5e"/><rect x="125.4" y="609.6" width="0.9" height="0.9" fill="#a4a4a4"/><rect x="128.1" y="582.0" width="0.9" height="0.9" fill="#5e5e5e"/><rect x="130.4" y="610.2" width="0.9" height="0.9" fill="#a4a4a4"/><rect x="130.8" y="582.4" width="0.9" height="0.9" fill="#a4a4a4"/><rect x="117.0" y="589.2" width="0.9" height="0.9" fill="#6a6a6a"/><rect x="143.5" y="598.3" width="0.9" height="0.9" fill="#5e5e5e"/><rect x="124.1" y="599.0" width="0.9" height="0.9" fill="#6a6a6a"/><rect x="126.6" y="589.5" width="0.9" height="0.9" fill="#9a9a9a"/><rect x="122.2" y="604.0" width="0.9" height="0.9" fill="#5e5e5e"/><rect x="125.8" y="604.9" width="0.9" height="0.9" fill="#a4a4a4"/><rect x="130.5" y="583.6" width="0.9" height="0.9" fill="#6a6a6a"/><rect x="119.5" y="597.3" width="0.9" height="0.9" fill="#a4a4a4"/><rect x="143.9" y="592.0" width="0.9" height="0.9" fill="#5e5e5e"/><rect x="128.3" y="581.6" width="0.9" height="0.9" fill="#a4a4a4"/><rect x="129.0" y="600.7" width="0.9" height="0.9" fill="#a4a4a4"/><rect x="128.3" y="607.9" width="0.9" height="0.9" fill="#6a6a6a"/><rect x="145.0" y="586.0" width="0.9" height="0.9" fill="#a4a4a4"/><rect x="136.3" y="593.6" width="0.9" height="0.9" fill="#9a9a9a"/><rect x="117.1" y="598.9" width="0.9" height="0.9" fill="#9a9a9a"/><rect x="129.8" y="577.6" width="0.9" height="0.9" fill="#5e5e5e"/><rect x="124.8" y="586.9" width="0.9" height="0.9" fill="#5e5e5e"/><rect x="133.5" y="602.5" width="0.9" height="0.9" fill="#9a9a9a"/><rect x="127.2" y="604.9" width="0.9" height="0.9" fill="#9a9a9a"/><rect x="118.8" y="600.5" width="0.9" height="0.9" fill="#a4a4a4"/><rect x="127.7" y="608.7" width="0.9" height="0.9" fill="#a4a4a4"/><rect x="126.1" y="601.7" width="0.9" height="0.9" fill="#9a9a9a"/><rect x="117.0" y="589.2" width="0.9" height="0.9" fill="#9a9a9a"/><rect x="124.1" y="602.1" width="0.9" height="0.9" fill="#6a6a6a"/><rect x="127.4" y="586.3" width="0.9" height="0.9" fill="#5e5e5e"/><rect x="124.2" y="600.9" width="0.9" height="0.9" fill="#6a6a6a"/><rect x="144.8" y="584.8" width="0.9" height="0.9" fill="#5e5e5e"/><rect x="130.8" y="610.1" width="0.9" height="0.9" fill="#9a9a9a"/><rect x="141.4" y="578.5" width="0.9" height="0.9" fill="#9a9a9a"/><rect x="121.8" y="604.2" width="0.9" height="0.9" fill="#6a6a6a"/><rect x="141.6" y="603.1" width="0.9" height="0.9" fill="#a4a4a4"/><rect x="126.3" y="585.7" width="0.9" height="0.9" fill="#6a6a6a"/><rect x="140.4" y="596.3" width="0.9" height="0.9" fill="#a4a4a4"/><rect x="128.2" y="579.5" width="0.9" height="0.9" fill="#9a9a9a"/><rect x="133.2" y="585.9" width="0.9" height="0.9" fill="#9a9a9a"/><rect x="124.3" y="576.6" width="0.9" height="0.9" fill="#5e5e5e"/><rect x="129.2" y="611.4" width="0.9" height="0.9" fill="#9a9a9a"/><rect x="121.5" y="578.5" width="0.9" height="0.9" fill="#9a9a9a"/><rect x="135.3" y="599.3" width="0.9" height="0.9" fill="#5e5e5e"/><rect x="140.3" y="584.7" width="0.9" height="0.9" fill="#6a6a6a"/><rect x="133.7" y="587.7" width="0.9" height="0.9" fill="#6a6a6a"/><rect x="122.3" y="582.9" width="0.9" height="0.9" fill="#a4a4a4"/><rect x="123.4" y="584.2" width="0.9" height="0.9" fill="#a4a4a4"/><rect x="126.2" y="588.6" width="0.9" height="0.9" fill="#a4a4a4"/><rect x="131.8" y="582.3" width="0.9" height="0.9" fill="#5e5e5e"/><rect x="119.3" y="591.6" width="0.9" height="0.9" fill="#a4a4a4"/><rect x="119.8" y="580.7" width="0.9" height="0.9" fill="#a4a4a4"/><rect x="144.9" y="587.7" width="0.9" height="0.9" fill="#a4a4a4"/><rect x="130.0" y="583.4" width="0.9" height="0.9" fill="#5e5e5e"/><rect x="119.4" y="596.3" width="0.9" height="0.9" fill="#6a6a6a"/><rect x="122.8" y="587.6" width="0.9" height="0.9" fill="#a4a4a4"/><rect x="141.5" y="589.1" width="0.9" height="0.9" fill="#6a6a6a"/><rect x="121.8" y="585.4" width="0.9" height="0.9" fill="#a4a4a4"/><rect x="117.1" y="592.4" width="0.9" height="0.9" fill="#9a9a9a"/><rect x="128.4" y="594.5" width="0.9" height="0.9" fill="#5e5e5e"/><rect x="136.3" y="588.7" width="0.9" height="0.9" fill="#6a6a6a"/><rect x="128.8" y="584.3" width="0.9" height="0.9" fill="#6a6a6a"/><rect x="129.1" y="575.4" width="0.9" height="0.9" fill="#6a6a6a"/><rect x="128.9" y="574.1" width="0.9" height="0.9" fill="#6a6a6a"/><path d="M131.6 573 L131.6 581 M131.6 604 L131.6 612" stroke="#333" stroke-width="1"/><path d="M127.5 583 Q131.6 586.5 135.7 583 M131.6 585 L131.6 591" stroke="#383838" stroke-width="1.3" fill="none"/><path d="M121.5 587 Q123 594 127 597 M141.7 587 Q140.2 594 136.2 597" stroke="#5a5a5a" stroke-width="0.9" fill="none"/><path d="M126 601.5 Q131.6 596.5 137.2 601.5" stroke="#3a3a3a" stroke-width="1.4" fill="none"/><path d="M118 597 L122 598 M145 597 L141 598 M120 584 L124 586 M143 584 L139 586" stroke="#5a5a5a" stroke-width="0.8"/><g stroke="#fcebeb" stroke-width="0.6"><line x1="333" y1="569.7" x2="333" y2="614.8"/><line x1="338" y1="569.7" x2="338" y2="614.8"/><line x1="343" y1="569.7" x2="343" y2="614.8"/><line x1="348" y1="569.7" x2="348" y2="614.8"/><line x1="353" y1="569.7" x2="353" y2="614.8"/><line x1="358" y1="569.7" x2="358" y2="614.8"/><line x1="363" y1="569.7" x2="363" y2="614.8"/><line x1="368" y1="569.7" x2="368" y2="614.8"/><line x1="373" y1="569.7" x2="373" y2="614.8"/><line x1="378" y1="569.7" x2="378" y2="614.8"/><line x1="383" y1="569.7" x2="383" y2="614.8"/><line x1="333" y1="569.7" x2="383.5" y2="569.7"/><line x1="333" y1="574.7" x2="383.5" y2="574.7"/><line x1="333" y1="579.7" x2="383.5" y2="579.7"/><line x1="333" y1="584.7" x2="383.5" y2="584.7"/><line x1="333" y1="589.7" x2="383.5" y2="589.7"/><line x1="333" y1="594.7" x2="383.5" y2="594.7"/><line x1="333" y1="599.7" x2="383.5" y2="599.7"/><line x1="333" y1="604.7" x2="383.5" y2="604.7"/><line x1="333" y1="609.7" x2="383.5" y2="609.7"/><line x1="333" y1="614.7" x2="383.5" y2="614.7"/></g><polyline points="334,594.5 336,591 338,595.3 340.9,593.3 344.9,597.4 347.1,579 349,599.4 355,593 359,596.6 364.8,597 366.6,578.7 368.5,599.4 374.6,593 377,595.3 381,596" fill="none" stroke="#f0838a" stroke-width="1.2" stroke-linejoin="round"/><rect x="578" y="568.5" width="10.5" height="11.8" rx="1.5" fill="#f06a22"/><rect x="579" y="580" width="8.5" height="4" fill="#e4e8ee"/><path d="M579 583.6 L587.5 583.6 L587.5 612 Q587.5 616.3 583.25 616.3 Q579 616.3 579 612 Z" fill="#b8303a"/><rect x="579.9" y="585.8" width="3.8" height="23.2" fill="#f4f4f2"/><rect x="112.2" y="631.2" width="39.9" height="46.8" rx="5" fill="#b6e0dc"/><path d="M121 642 Q132 638 141 643 M120 646 Q128 649 140 651 M124 660 Q130 656 138 652 L146 653 M127 656 Q133 664 137 668 L142 664 M116 649 Q121 652 125 660" fill="none" stroke="#d99494" stroke-width="1" /><path d="M120 655 Q128 654 135 650 M131 641 Q137 646 139 654" fill="none" stroke="#e8aaaa" stroke-width="0.8"/><path d="M344 634 Q337 636 335.5 648 Q334.5 662 340 671 Q346 678 352 678.5 Q360 677 363 667 Q366 655 364.5 643 Q363 635 357 633.5 L354 633.5 L353.5 642 Q351 645 348.5 642 L348 633.5 Z" fill="#f9dde0" stroke="#7f7f7f" stroke-width="1.7" stroke-linejoin="round"/><path d="M336 652 Q335.5 665 341 672 Q347 677.5 352 678" fill="none" stroke="#858585" stroke-width="3.2"/><path d="M350.5 645 Q350 660 355.5 676" fill="none" stroke="#7a7a7a" stroke-width="1.3"/><path d="M341 652 L343 657 M358 651 L356 656" stroke="#c9b5b8" stroke-width="0.8"/><path d="M366.8 637.8 L379.6 637.8 L378.4 648 L375.8 657 L375.2 663 Q374 673 361 678.5 L360 676.5 Q371 671.5 372.2 663 L371.4 657 L368 648 Z" fill="#e2e2e2" stroke="#d2d2d2" stroke-width="0.6"/><rect x="366" y="633.8" width="14.3" height="4.3" rx="1" fill="#4a8bb8"/><circle cx="373.6" cy="652.5" r="1.3" fill="#4a8bb8"/><path d="M552 667 L552 640 Q552 635 558 636 Q568 641 575 639 Q582 635 584 638 L584 664 Q583 669 577 668 Q571 668 570 672 L570 679" fill="none" stroke="#dadada" stroke-width="7" stroke-linecap="round" stroke-linejoin="round"/><circle cx="586" cy="655.5" r="1.3" fill="#d9453c"/><circle cx="585" cy="660.5" r="1.1" fill="#d9453c"/><circle cx="583" cy="665.5" r="1.7" fill="#d9453c"/><path d="M87 777 Q80 775 72 779 Q62 784 58 795 Q55.5 807 59 815 Q64 821.5 72 822 L69 826 Q73 832 81 834 L85.5 840 L90.5 840 L93 834 Q102 832 107 826 L104 822 Q112 821.5 117 815 Q120.5 807 118 795 Q114 784 104 779 Q96 775 89 777 Z" fill="#e4b7ba"/><path d="M87.6 800.9 Q86.0 803.5 83.3 801.9" stroke="#d29da2" stroke-width="0.8" fill="none"/><path d="M86.7 797.2 Q88.3 799.9 85.6 801.4" stroke="#d29da2" stroke-width="0.8" fill="none"/><path d="M71.8 797.5 Q73.0 800.3 70.1 801.5" stroke="#d29da2" stroke-width="0.8" fill="none"/><path d="M79.2 781.4 Q78.6 784.4 75.6 783.9" stroke="#d29da2" stroke-width="0.8" fill="none"/><path d="M94.4 802.6 Q97.4 801.7 98.2 804.7" stroke="#d29da2" stroke-width="0.8" fill="none"/><path d="M59.6 799.7 Q62.2 798.0 64.0 800.5" stroke="#d29da2" stroke-width="0.8" fill="none"/><path d="M69.1 788.5 Q71.5 786.5 73.5 788.9" stroke="#d29da2" stroke-width="0.8" fill="none"/><path d="M88.0 795.6 Q87.1 798.6 84.1 797.7" stroke="#d29da2" stroke-width="0.8" fill="none"/><path d="M89.0 802.4 Q91.2 804.6 89.0 806.8" stroke="#d29da2" stroke-width="0.8" fill="none"/><path d="M95.4 795.6 Q98.5 795.9 98.2 799.0" stroke="#d29da2" stroke-width="0.8" fill="none"/><path d="M105.2 805.5 Q108.2 806.1 107.6 809.2" stroke="#d29da2" stroke-width="0.8" fill="none"/><path d="M71.3 790.1 Q73.9 788.4 75.5 791.0" stroke="#d29da2" stroke-width="0.8" fill="none"/><path d="M104.3 794.0 Q103.4 797.0 100.4 796.0" stroke="#d29da2" stroke-width="0.8" fill="none"/><path d="M83.8 816.3 Q82.9 819.3 79.9 818.3" stroke="#d29da2" stroke-width="0.8" fill="none"/><path d="M112.4 797.7 Q110.3 800.0 108.0 797.9" stroke="#d29da2" stroke-width="0.8" fill="none"/><path d="M83.3 779.9 Q84.5 782.8 81.6 783.9" stroke="#d29da2" stroke-width="0.8" fill="none"/><path d="M100.9 789.2 Q103.6 787.7 105.2 790.4" stroke="#d29da2" stroke-width="0.8" fill="none"/><path d="M100.4 782.2 Q103.5 782.1 103.5 785.3" stroke="#d29da2" stroke-width="0.8" fill="none"/><path d="M104.4 783.9 Q106.2 786.5 103.6 788.3" stroke="#d29da2" stroke-width="0.8" fill="none"/><path d="M86.6 785.0 Q86.8 788.1 83.7 788.3" stroke="#d29da2" stroke-width="0.8" fill="none"/><path d="M66.0 804.0 Q68.9 802.7 70.1 805.5" stroke="#d29da2" stroke-width="0.8" fill="none"/><path d="M82.3 785.9 Q85.4 786.1 85.2 789.2" stroke="#d29da2" stroke-width="0.8" fill="none"/><path d="M75.7 813.0 Q78.8 812.7 79.2 815.7" stroke="#d29da2" stroke-width="0.8" fill="none"/><path d="M83.2 811.2 Q84.3 814.1 81.3 815.2" stroke="#d29da2" stroke-width="0.8" fill="none"/><path d="M74.2 787.9 Q74.0 791.0 70.9 790.8" stroke="#d29da2" stroke-width="0.8" fill="none"/><path d="M76.6 790.4 Q79.3 788.7 80.9 791.4" stroke="#d29da2" stroke-width="0.8" fill="none"/><path d="M64.3 800.8 Q67.4 800.7 67.5 803.8" stroke="#d29da2" stroke-width="0.8" fill="none"/><path d="M93.1 791.7 Q95.6 793.5 93.8 796.0" stroke="#d29da2" stroke-width="0.8" fill="none"/><path d="M113.3 796.2 Q114.9 798.9 112.3 800.5" stroke="#d29da2" stroke-width="0.8" fill="none"/><path d="M105.8 785.3 Q108.8 784.4 109.7 787.3" stroke="#d29da2" stroke-width="0.8" fill="none"/><path d="M76.0 785.0 Q76.1 788.1 73.0 788.2" stroke="#d29da2" stroke-width="0.8" fill="none"/><path d="M91.5 795.2 Q94.3 793.8 95.7 796.6" stroke="#d29da2" stroke-width="0.8" fill="none"/><path d="M72.4 805.6 Q75.5 805.7 75.4 808.8" stroke="#d29da2" stroke-width="0.8" fill="none"/><path d="M104.2 801.1 Q107.2 801.5 106.8 804.6" stroke="#d29da2" stroke-width="0.8" fill="none"/><path d="M68.3 807.3 Q70.9 805.7 72.6 808.3" stroke="#d29da2" stroke-width="0.8" fill="none"/><path d="M75.3 800.4 Q74.3 803.3 71.4 802.4" stroke="#d29da2" stroke-width="0.8" fill="none"/><path d="M96.3 789.6 Q94.7 792.3 92.0 790.8" stroke="#d29da2" stroke-width="0.8" fill="none"/><path d="M73.4 796.4 Q76.0 794.7 77.7 797.2" stroke="#d29da2" stroke-width="0.8" fill="none"/><path d="M71.0 791.6 Q72.7 794.2 70.0 795.9" stroke="#d29da2" stroke-width="0.8" fill="none"/><path d="M70.2 792.7 Q68.8 795.6 66.0 794.2" stroke="#d29da2" stroke-width="0.8" fill="none"/><path d="M96.3 801.4 Q99.3 800.4 100.3 803.3" stroke="#d29da2" stroke-width="0.8" fill="none"/><path d="M112.3 806.8 Q110.4 809.2 108.0 807.3" stroke="#d29da2" stroke-width="0.8" fill="none"/><path d="M85.9 806.4 Q88.9 807.0 88.2 810.1" stroke="#d29da2" stroke-width="0.8" fill="none"/><path d="M92.6 807.8 Q91.2 810.6 88.4 809.2" stroke="#d29da2" stroke-width="0.8" fill="none"/><path d="M102.6 805.8 Q102.1 808.9 99.1 808.5" stroke="#d29da2" stroke-width="0.8" fill="none"/><path d="M111.6 791.2 Q112.2 794.3 109.2 794.9" stroke="#d29da2" stroke-width="0.8" fill="none"/><path d="M85.5 809.7 Q84.4 812.6 81.5 811.5" stroke="#d29da2" stroke-width="0.8" fill="none"/><path d="M91.1 801.9 Q94.0 803.2 92.7 806.0" stroke="#d29da2" stroke-width="0.8" fill="none"/><path d="M90.3 802.8 Q93.0 801.2 94.6 803.9" stroke="#d29da2" stroke-width="0.8" fill="none"/><path d="M107.8 806.1 Q110.6 807.4 109.3 810.2" stroke="#d29da2" stroke-width="0.8" fill="none"/><path d="M100.3 800.1 Q102.9 801.8 101.1 804.4" stroke="#d29da2" stroke-width="0.8" fill="none"/><path d="M91.8 796.8 Q94.9 796.6 95.1 799.7" stroke="#d29da2" stroke-width="0.8" fill="none"/><path d="M99.5 796.8 Q100.8 799.7 97.9 800.9" stroke="#d29da2" stroke-width="0.8" fill="none"/><path d="M108.5 789.2 Q110.8 787.0 112.9 789.3" stroke="#d29da2" stroke-width="0.8" fill="none"/><path d="M75.5 804.8 Q78.6 804.4 79.0 807.4" stroke="#d29da2" stroke-width="0.8" fill="none"/><path d="M98.7 795.9 Q97.4 798.8 94.6 797.4" stroke="#d29da2" stroke-width="0.8" fill="none"/><path d="M76.9 804.4 Q79.9 803.8 80.4 806.9" stroke="#d29da2" stroke-width="0.8" fill="none"/><path d="M86.4 810.7 Q84.9 813.4 82.1 811.8" stroke="#d29da2" stroke-width="0.8" fill="none"/><path d="M109.1 792.3 Q110.7 794.9 108.0 796.5" stroke="#d29da2" stroke-width="0.8" fill="none"/><path d="M78.1 782.2 Q80.3 784.4 78.1 786.6" stroke="#d29da2" stroke-width="0.8" fill="none"/><path d="M107.6 811.2 Q107.9 814.3 104.9 814.7" stroke="#d29da2" stroke-width="0.8" fill="none"/><path d="M68.7 795.4 Q71.8 795.6 71.6 798.7" stroke="#d29da2" stroke-width="0.8" fill="none"/><path d="M73.4 793.5 Q74.6 796.4 71.7 797.6" stroke="#d29da2" stroke-width="0.8" fill="none"/><path d="M89.6 790.5 Q88.7 793.5 85.7 792.7" stroke="#d29da2" stroke-width="0.8" fill="none"/><path d="M111.9 796.6 Q114.5 795.0 116.2 797.6" stroke="#d29da2" stroke-width="0.8" fill="none"/><path d="M93.6 790.0 Q93.2 793.1 90.1 792.7" stroke="#d29da2" stroke-width="0.8" fill="none"/><path d="M87.5 778.9 Q86.7 781.9 83.7 781.1" stroke="#d29da2" stroke-width="0.8" fill="none"/><path d="M71.6 784.3 Q74.1 782.5 76.0 785.0" stroke="#d29da2" stroke-width="0.8" fill="none"/><path d="M95.8 794.8 Q97.0 797.7 94.1 798.9" stroke="#d29da2" stroke-width="0.8" fill="none"/><path d="M98.6 811.0 Q96.7 813.5 94.2 811.6" stroke="#d29da2" stroke-width="0.8" fill="none"/><path d="M91.9 825.0 L95.9 825.0" stroke="#d6a4a8" stroke-width="0.7"/><path d="M85.2 824.8 L89.2 824.8" stroke="#d6a4a8" stroke-width="0.7"/><path d="M70.3 827.7 L74.3 827.7" stroke="#d6a4a8" stroke-width="0.7"/><path d="M92.9 824.8 L96.9 824.8" stroke="#d6a4a8" stroke-width="0.7"/><path d="M78.7 826.5 L82.7 826.5" stroke="#d6a4a8" stroke-width="0.7"/><path d="M92.3 828.2 L96.3 828.2" stroke="#d6a4a8" stroke-width="0.7"/><path d="M89.7 830.6 L93.7 830.6" stroke="#d6a4a8" stroke-width="0.7"/><path d="M82.6 830.9 L86.6 830.9" stroke="#d6a4a8" stroke-width="0.7"/><path d="M99.0 823.9 L103.0 823.9" stroke="#d6a4a8" stroke-width="0.7"/><path d="M99.8 830.2 L103.8 830.2" stroke="#d6a4a8" stroke-width="0.7"/><path d="M74.2 827.5 L78.2 827.5" stroke="#d6a4a8" stroke-width="0.7"/><path d="M90.0 832.1 L94.0 832.1" stroke="#d6a4a8" stroke-width="0.7"/><path d="M82.1 828.7 L86.1 828.7" stroke="#d6a4a8" stroke-width="0.7"/><path d="M98.1 831.0 L102.1 831.0" stroke="#d6a4a8" stroke-width="0.7"/><path d="M100.2 827.6 L104.2 827.6" stroke="#d6a4a8" stroke-width="0.7"/><path d="M90.8 825.0 L94.8 825.0" stroke="#d6a4a8" stroke-width="0.7"/><path d="M93.1 831.2 L97.1 831.2" stroke="#d6a4a8" stroke-width="0.7"/><path d="M90.5 830.2 L94.5 830.2" stroke="#d6a4a8" stroke-width="0.7"/><path d="M88 777.5 L88 794" stroke="#c99398" stroke-width="1"/><path d="M81.5 795 Q85.5 799.5 88 797 Q90.5 799.5 94.5 795 Q93 802.5 88 802 Q83 802.5 81.5 795 Z" fill="#ffffff"/><rect x="87" y="802.5" width="2.4" height="4.5" fill="#ffffff"/><path d="M58.5 801 Q66 805 72 802.5 Q76 808 83 816 M117.5 801 Q110 805 104 802.5 Q100 808 93 816" fill="none" stroke="#bf3f4c" stroke-width="1.3"/><path d="M66 803.5 Q70 808 73 806 M110 803.5 Q106 808 103 806" fill="none" stroke="#c55660" stroke-width="0.8"/><path d="M222.3 776.4 L227.7 776.4 L227.7 800 Q230.2 810 229.6 817 Q228.7 826 225.8 831 L225.8 839.4 L218 839.4 L218 831 L212.2 810 L212.2 798 L217.3 798 L217.3 806 Q218.5 811 219.5 813 Q221.5 808 222.3 800 Z" fill="#8e2332"/><path d="M223 800 L227 800 Q229 810 228.6 817 Q227.8 825 225 830.2 L218.8 830.2 L213.4 811.5 L213.4 808.5 L216.6 808.5 Q218.3 814.5 219.6 815.5 Q222.2 809 223 800 Z" fill="#e6a722"/><path d="M221.5 812 Q223.5 821 221.8 829 M225.5 804 Q227.5 815 225 827" fill="none" stroke="#f4c64d" stroke-width="0.9"/><path d="M216 813 Q219 822 220 829" fill="none" stroke="#c98a1a" stroke-width="0.6"/><path d="M341 839.5 L341 826" stroke="#3d86cf" stroke-width="5"/><path d="M338 798 Q333 806 333.5 816 Q334 828 342 833 Q352 839 365 840.5 Q374 839 376.5 828 Q378.5 815 375 804 Q371 796 362 795 L346 796 Z" fill="#e27a70"/><path d="M339 803 Q336 810 336.5 818 Q337 826 344 830 Q353 836 364.5 837.5 Q372 835.5 373.5 826 Q375 815 372 806 Q368 799 360 799 L347 799 Z" fill="#c9443f"/><ellipse cx="341.5" cy="815" rx="6.5" ry="9.5" fill="#a52f33"/><path d="M350 808 Q352 826 365 836 Q371 834 372 824 Q372 810 362 804 Z" fill="#b13a38"/><path d="M356 810 L362 822 L366 812 Z" fill="#f6c9c0"/><path d="M337 826 Q345 824 350 830 L346 832 Z" fill="#f3b8ae"/><path d="M349 806 Q353 824 364.5 836" fill="none" stroke="#e98f84" stroke-width="1.6"/><path d="M347 799 Q347 788 354 788 Q361 788 361 799 Z" fill="#c23f3c"/><path d="M346.5 798 Q346 784 353.5 784.5 Q361 785 361.5 798" fill="none" stroke="#d44a48" stroke-width="6"/><path d="M346 776.5 L349.5 786 M353.8 776.5 L353.8 785 M358 776.5 L357.5 785" stroke="#d9504c" stroke-width="2.3"/><ellipse cx="348.5" cy="803" rx="4" ry="5.5" fill="#a83236"/><path d="M340.5 776 L342.5 803" stroke="#3d86cf" stroke-width="4.6"/><path d="M334 790.5 L341 792" stroke="#3d86cf" stroke-width="3.2"/><path d="M333 796.5 L339.5 797.5 M333 801.5 L339.5 801.5" stroke="#d23a40" stroke-width="2.4"/><path d="M353 802 Q358 796 373.5 790.5 M362 797 L373.5 795.5" stroke="#3d86cf" stroke-width="4.4" fill="none"/><path d="M366 800.5 L373 803.5" stroke="#d23a40" stroke-width="3"/><circle cx="733" cy="773.5" r="5.5" fill="#cf3a2c" stroke="#a52a20" stroke-width="0.9"/><circle cx="733" cy="773.5" r="3.03" fill="none" stroke="#b32f24" stroke-width="0.8"/><circle cx="744" cy="771.5" r="6" fill="#cf3a2c" stroke="#a52a20" stroke-width="0.9"/><circle cx="744" cy="771.5" r="3.30" fill="none" stroke="#b32f24" stroke-width="0.8"/><circle cx="756" cy="772" r="5.8" fill="#cf3a2c" stroke="#a52a20" stroke-width="0.9"/><circle cx="756" cy="772" r="3.19" fill="none" stroke="#b32f24" stroke-width="0.8"/><circle cx="762.5" cy="781" r="5.5" fill="#cf3a2c" stroke="#a52a20" stroke-width="0.9"/><circle cx="762.5" cy="781" r="3.03" fill="none" stroke="#b32f24" stroke-width="0.8"/><circle cx="756" cy="790" r="6" fill="#cf3a2c" stroke="#a52a20" stroke-width="0.9"/><circle cx="756" cy="790" r="3.30" fill="none" stroke="#b32f24" stroke-width="0.8"/><circle cx="743" cy="792.5" r="6" fill="#cf3a2c" stroke="#a52a20" stroke-width="0.9"/><circle cx="743" cy="792.5" r="3.30" fill="none" stroke="#b32f24" stroke-width="0.8"/><circle cx="733.5" cy="783.5" r="5.5" fill="#cf3a2c" stroke="#a52a20" stroke-width="0.9"/><circle cx="733.5" cy="783.5" r="3.03" fill="none" stroke="#b32f24" stroke-width="0.8"/><circle cx="744" cy="782" r="6" fill="#cf3a2c" stroke="#a52a20" stroke-width="0.9"/><circle cx="744" cy="782" r="3.30" fill="none" stroke="#b32f24" stroke-width="0.8"/><circle cx="752" cy="782" r="5.5" fill="#cf3a2c" stroke="#a52a20" stroke-width="0.9"/><circle cx="752" cy="782" r="3.03" fill="none" stroke="#b32f24" stroke-width="0.8"/><rect x="738.0" y="783.9" width="0.9" height="0.9" fill="#e86a58"/><rect x="763.8" y="781.7" width="0.9" height="0.9" fill="#f08070"/><rect x="760.8" y="775.0" width="0.9" height="0.9" fill="#8e2a1e"/><rect x="736.3" y="789.2" width="0.9" height="0.9" fill="#f08070"/><rect x="760.8" y="781.8" width="0.9" height="0.9" fill="#f08070"/><rect x="761.7" y="774.2" width="0.9" height="0.9" fill="#8e2a1e"/><rect x="762.0" y="783.2" width="0.9" height="0.9" fill="#f08070"/><rect x="760.3" y="775.4" width="0.9" height="0.9" fill="#f08070"/><rect x="756.3" y="794.2" width="0.9" height="0.9" fill="#f08070"/><rect x="758.9" y="780.2" width="0.9" height="0.9" fill="#f08070"/><rect x="759.4" y="780.8" width="0.9" height="0.9" fill="#8e2a1e"/><rect x="734.2" y="773.7" width="0.9" height="0.9" fill="#f08070"/><rect x="745.6" y="786.4" width="0.9" height="0.9" fill="#e86a58"/><rect x="745.0" y="792.8" width="0.9" height="0.9" fill="#f08070"/><rect x="742.3" y="785.1" width="0.9" height="0.9" fill="#f08070"/><rect x="737.8" y="777.4" width="0.9" height="0.9" fill="#8e2a1e"/><rect x="754.5" y="772.1" width="0.9" height="0.9" fill="#e86a58"/><rect x="750.6" y="789.1" width="0.9" height="0.9" fill="#8e2a1e"/><rect x="739.1" y="770.9" width="0.9" height="0.9" fill="#e86a58"/><rect x="744.6" y="771.7" width="0.9" height="0.9" fill="#e86a58"/><rect x="745.2" y="779.9" width="0.9" height="0.9" fill="#8e2a1e"/><rect x="741.6" y="794.3" width="0.9" height="0.9" fill="#e86a58"/><rect x="740.8" y="769.4" width="0.9" height="0.9" fill="#f08070"/><rect x="749.4" y="796.4" width="0.9" height="0.9" fill="#e86a58"/><rect x="740.1" y="775.2" width="0.9" height="0.9" fill="#f08070"/><rect x="763.1" y="778.7" width="0.9" height="0.9" fill="#e86a58"/><rect x="762.1" y="779.0" width="0.9" height="0.9" fill="#f08070"/><rect x="754.9" y="770.2" width="0.9" height="0.9" fill="#f08070"/><rect x="739.3" y="786.7" width="0.9" height="0.9" fill="#f08070"/><rect x="738.0" y="776.3" width="0.9" height="0.9" fill="#e86a58"/><rect x="748.8" y="784.0" width="0.9" height="0.9" fill="#8e2a1e"/><rect x="741.0" y="778.7" width="0.9" height="0.9" fill="#f08070"/><rect x="753.0" y="768.9" width="0.9" height="0.9" fill="#f08070"/><rect x="741.6" y="777.9" width="0.9" height="0.9" fill="#e86a58"/><rect x="752.1" y="775.6" width="0.9" height="0.9" fill="#e86a58"/><rect x="738.5" y="781.1" width="0.9" height="0.9" fill="#f08070"/><rect x="751.9" y="772.5" width="0.9" height="0.9" fill="#8e2a1e"/><rect x="740.9" y="778.4" width="0.9" height="0.9" fill="#f08070"/><rect x="739.0" y="791.4" width="0.9" height="0.9" fill="#8e2a1e"/><rect x="750.6" y="789.8" width="0.9" height="0.9" fill="#e86a58"/><rect x="748.0" y="787.3" width="0.9" height="0.9" fill="#e86a58"/></svg>
<svg width="800" height="1109"><path d="M30 20.5 Q22 23.5 23.8 29 Q26 34.5 35 34.8 Q40 34.8 44.5 33.2" fill="none" stroke="#fff" stroke-width="2.1" stroke-linecap="round"/><path d="M27.5 21 Q36 16.8 47 18.2 Q56 20 56 26 Q55.5 30 51 32 Q47.5 35 46.8 41.5" fill="none" stroke="#fff" stroke-width="1.7" stroke-linecap="round"/><path d="M28.5 71 Q33 62 44 62 Q55 63 56 72 Q56.5 78 51 81 Q49 83 48.5 86" fill="none" stroke="#fff" stroke-width="1.9" stroke-linecap="round"/><path d="M29 71 Q36 67 41 71 Q45 67 50 71 M29 71 L26 82 Q34 80 41 83 Q47 80 52 82 M41 71 L41 83" fill="none" stroke="#fff" stroke-width="1.1"/><path d="M27 79 Q34 77 41 80 Q47 77 52 79" fill="none" stroke="#fff" stroke-width="0.9"/><path d="M656 34.5 Q655 29 658.5 27.5 Q661 27 660.5 30 Q658.5 31 660.5 34.5 Z" fill="#c93fc9"/></svg>
<div class="t" style="left:-360.00px;width:800px;text-align:center;top:42.10px;font-size:7.4px;line-height:8.27px;color:#fff;font-weight:bold;font-style:normal;">World Stroke</div>
<div class="t" style="left:-360.00px;width:800px;text-align:center;top:49.55px;font-size:5.8px;line-height:6.48px;color:#fff;font-weight:normal;font-style:normal;-webkit-text-stroke:0;">Organization</div>
<div class="t" style="left:-359.50px;width:800px;text-align:center;top:87.70px;font-size:7.4px;line-height:8.27px;color:#fff;font-weight:bold;font-style:normal;">World Stroke</div>
<div class="t" style="left:-359.50px;width:800px;text-align:center;top:94.79px;font-size:6.2px;line-height:6.93px;color:#fff;font-weight:normal;font-style:normal;-webkit-text-stroke:0;">Academy</div>
<div class="t" style="left:661.60px;top:29.65px;font-size:5.25px;line-height:5.86px;color:#555;font-weight:normal;font-style:normal;-webkit-text-stroke:0;">Bristol Myers Squibb</div>
<div class="t" style="left:719.40px;top:27.91px;font-size:5.85px;line-height:6.53px;color:#e4322b;font-weight:bold;font-style:normal;-webkit-text-stroke:0;">Johnson&amp;Johnson</div>
<div class="a" style="left:9.40px;top:1059.40px;width:776.10px;height:44.80px;box-sizing:border-box;border:1.5px solid #b9c0d0;background:#f6f1f8;border-radius:5px;"></div>
<div class="t" style="left:13.60px;top:1066.11px;font-size:9.05px;line-height:10.11px;color:#222;font-weight:normal;font-style:italic;">References:</div>
<div class="t" style="left:13.60px;top:1078.16px;font-size:9.1px;line-height:10.16px;color:#222;font-weight:normal;font-style:normal;">Adams et al. <i>Stroke</i>. 1993;24(1):35-41.</div>
<div class="t" style="left:13.60px;top:1091.01px;font-size:9.05px;line-height:10.11px;color:#222;font-weight:normal;font-style:normal;">Yashi et. Stroke. 2025;56:3552–3562.</div>
<div class="t" style="left:-22.00px;width:800px;text-align:right;top:1065.36px;font-size:9.1px;line-height:10.16px;color:#222;font-weight:normal;font-style:italic;">This infographic is sponsored by Bristol Myers Squibb and Johnson &amp; Johnson.</div>
<div class="t" style="left:459.40px;top:1079.01px;font-size:9.05px;line-height:10.11px;color:#222;font-weight:normal;font-style:normal;">www.world-stroke-academy.org</div>
<div class="t" style="left:-21.50px;width:800px;text-align:right;top:1079.01px;font-size:9.05px;line-height:10.11px;color:#222;font-weight:normal;font-style:normal;">©World Stroke Organization 2025</div>
<div class="t" style="left:-22.00px;width:800px;text-align:right;top:1092.26px;font-size:9.0px;line-height:10.05px;color:#222;font-weight:normal;font-style:normal;">©Andreas Charidimou using BioRender.com</div>
</body></html>
